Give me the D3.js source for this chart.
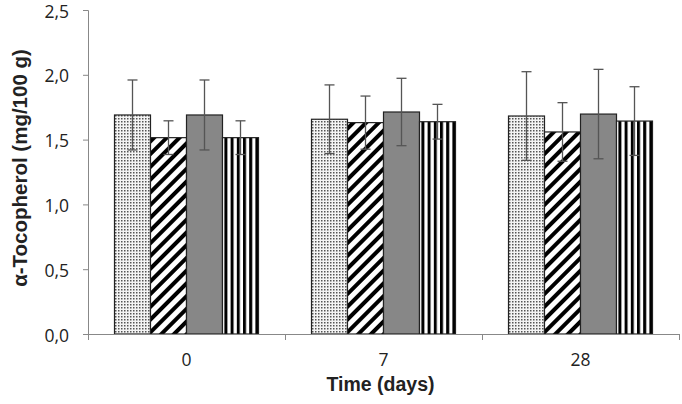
<!DOCTYPE html>
<html>
<head>
<meta charset="utf-8">
<script src="https://cdn.jsdelivr.net/npm/d3@7"></script>
<style>
  body { margin: 0; background: #fff; }
  svg { display: block; }
</style>
</head>
<body>
<svg id="chart" width="682" height="404"></svg>
<script>
// データ
const days = ["0", "7", "28"];
const seriesNames = ["s1", "s2", "s3", "s4"];
// 平均値 ( 日ごと、系列ごと )
const means = [
  [1.69, 1.515, 1.69, 1.515],
  [1.657, 1.631, 1.713, 1.638],
  [1.682, 1.559, 1.697, 1.643]
];
// 標準偏差
const errors = [
  [0.27, 0.13, 0.27, 0.13],
  [0.265, 0.205, 0.26, 0.134],
  [0.342, 0.226, 0.345, 0.265]
];
const yTicks = [0, 0.5, 1.0, 1.5, 2.0, 2.5];

const svg = d3.select("#chart");
const margin = { left: 88, right: 3, top: 10, bottom: 70 };
const width = 682 - margin.left - margin.right;
const height = 404 - margin.top - margin.bottom;

// パターン定義
const defs = svg.append("defs");
const dots = defs.append("pattern").attr("id", "pDots")
  .attr("patternUnits", "userSpaceOnUse").attr("width", 3).attr("height", 3);
dots.append("rect").attr("width", 3).attr("height", 3).attr("fill", "#f4f4f4");
dots.append("rect").attr("width", 1.5).attr("height", 1.5).attr("fill", "#555");

const diag = defs.append("pattern").attr("id", "pDiag")
  .attr("patternUnits", "userSpaceOnUse").attr("width", 9).attr("height", 9)
  .attr("patternTransform", "rotate(45)");
diag.append("rect").attr("width", 9).attr("height", 9).attr("fill", "#fff");
diag.append("rect").attr("width", 4).attr("height", 9).attr("fill", "#000");

const vert = defs.append("pattern").attr("id", "pVert")
  .attr("patternUnits", "userSpaceOnUse").attr("width", 6.2).attr("height", 6);
vert.append("rect").attr("width", 6.2).attr("height", 6).attr("fill", "#fff");
vert.append("rect").attr("width", 3).attr("height", 6).attr("fill", "#000");

const fills = ["url(#pDots)", "url(#pDiag)", "#878787", "url(#pVert)"];

const g = svg.append("g").attr("transform", `translate(${margin.left},${margin.top})`);

const x0 = d3.scaleBand().domain(days).range([0, width]).paddingInner(0).paddingOuter(0);
const x1 = d3.scaleBand().domain(seriesNames)
  .range([26.5, x0.bandwidth() - 26.5]).padding(0);
const y = d3.scaleLinear().domain([0, 2.5]).range([height, 0]);

// 棒
days.forEach((d, i) => {
  const grp = g.append("g").attr("transform", `translate(${x0(d)},0)`);
  seriesNames.forEach((s, j) => {
    grp.append("rect")
      .attr("x", x1(s))
      .attr("y", y(means[i][j]))
      .attr("width", x1.bandwidth())
      .attr("height", y(0) - y(means[i][j]))
      .attr("fill", fills[j])
      .attr("stroke", "#222")
      .attr("stroke-width", 1.2);
  });
  // 誤差棒
  seriesNames.forEach((s, j) => {
    const cx = x1(s) + x1.bandwidth() / 2;
    const hi = y(means[i][j] + errors[i][j]);
    const lo = y(means[i][j] - errors[i][j]);
    const eb = grp.append("g").attr("stroke", "#555").attr("stroke-width", 1.3);
    eb.append("line").attr("x1", cx).attr("x2", cx).attr("y1", hi).attr("y2", lo);
    eb.append("line").attr("x1", cx - 5).attr("x2", cx + 5).attr("y1", hi).attr("y2", hi);
    eb.append("line").attr("x1", cx - 5).attr("x2", cx + 5).attr("y1", lo).attr("y2", lo);
  });
});

// y 軸
const yAxis = g.append("g")
  .call(d3.axisLeft(y).tickValues(yTicks).tickSize(5).tickPadding(14)
    .tickFormat(d => d3.format(".1f")(d).replace(".", ",")));
yAxis.select(".domain").attr("stroke", "#888").attr("d", `M-5,0.5H0.5V${height}`);
yAxis.selectAll(".tick line").attr("stroke", "#888");
yAxis.selectAll(".tick text")
  .attr("dy", "0.4em")
  .attr("font-family", "'Open Sans', sans-serif").attr("font-size", 17.5).attr("fill", "#222");

// x 軸
const xAxis = g.append("g").attr("transform", `translate(0,${height})`)
  .call(d3.axisBottom(x0).tickSize(0).tickPadding(20));
xAxis.select(".domain").attr("stroke", "#888");
xAxis.selectAll(".tick text")
  .attr("font-family", "'Open Sans', sans-serif").attr("font-size", 17.5).attr("fill", "#222");
// カテゴリ境界の目盛り
const bounds = [0].concat(days.map(d => x0(d) + x0.bandwidth()));
xAxis.selectAll(".bound").data(bounds).enter().append("line")
  .attr("class", "bound")
  .attr("x1", d => d + 0.5).attr("x2", d => d + 0.5)
  .attr("y1", 0).attr("y2", 6)
  .attr("stroke", "#888");

// 軸タイトル
svg.append("text")
  .attr("x", margin.left + width / 2 - 3).attr("y", 391)
  .attr("text-anchor", "middle")
  .attr("font-family", "'Liberation Sans', Arial, sans-serif")
  .attr("font-weight", "bold").attr("font-size", 19.5).attr("fill", "#222")
  .text("Time (days)");

svg.append("text")
  .attr("transform", `translate(19,${margin.top + height / 2 - 4}) rotate(-90)`)
  .attr("text-anchor", "middle")
  .attr("dominant-baseline", "central")
  .attr("font-family", "'Liberation Sans', Arial, sans-serif")
  .attr("font-weight", "bold").attr("font-size", 20.5).attr("fill", "#222")
  .text("α-Tocopherol (mg/100 g)");
</script>
</body>
</html>
